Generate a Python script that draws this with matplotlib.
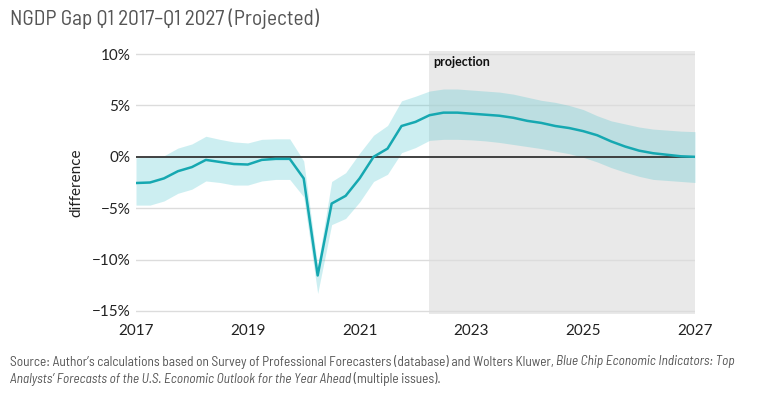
import numpy as np
import matplotlib
matplotlib.use("Agg")
import matplotlib.pyplot as plt

# quarterly positions, Q1 2017 .. Q1 2027
quarters = np.arange(2017, 2027.01, 0.25)

gap = [
    -2.55, -2.5, -2.1, -1.4,
    -1.0, -0.3, -0.5, -0.7,
    -0.75, -0.3, -0.2, -0.2,
    -2.1, -11.55, -4.55, -3.8,
    -2.1, 0.0, 0.8, 3.0,
    3.4, 4.05, 4.3, 4.3,
    4.2, 4.1, 4.0, 3.8,
    3.5, 3.3, 3.0, 2.8,
    2.5, 2.1, 1.5, 1.0,
    0.6, 0.35, 0.2, 0.05,
    0.0,
]
upper = [
    -0.1, 0.0, 0.1, 0.85,
    1.25, 2.0, 1.7, 1.45,
    1.35, 1.7, 1.75, 1.75,
    -0.4, -10.6, -2.4, -1.55,
    0.35, 2.1, 3.05, 5.45,
    5.9, 6.4, 6.6, 6.6,
    6.5, 6.4, 6.3, 6.1,
    5.8, 5.5, 5.3, 5.0,
    4.6, 4.0, 3.5, 3.2,
    2.9, 2.7, 2.6, 2.5,
    2.45,
]
lower = [
    -4.7, -4.7, -4.3, -3.55,
    -3.15, -2.35, -2.5, -2.75,
    -2.75, -2.35, -2.2, -2.2,
    -3.9, -13.3, -6.6, -6.0,
    -4.4, -2.4, -1.7, 0.4,
    0.9, 1.6, 1.7, 1.7,
    1.65, 1.55, 1.4, 1.2,
    1.0, 0.8, 0.55, 0.3,
    -0.05, -0.5, -1.05, -1.5,
    -1.9, -2.2, -2.3, -2.4,
    -2.5,
]
proj_start = 2022.25
proj_end = 2027

yticks = [10, 5, 0, -5, -10, -15]
xticks = [2017, 2019, 2021, 2023, 2025, 2027]

title = "NGDP Gap Q1 2017\u2013Q1 2027 (Projected)"
source_lines = [
    [("Source: Author\u2019s calculations based on Survey of Professional Forecasters (database) and Wolters Kluwer, ", "normal"),
     ("Blue Chip Economic Indicators: Top", "italic")],
    [("Analysts\u2019 Forecasts of the U.S. Economic Outlook for the Year Ahead", "italic"),
     (" (multiple issues).", "normal")],
]

narrow = ["Barlow Semi Condensed", "Archivo Narrow", "Roboto", "DejaVu Sans"]
body = ["Lato", "DejaVu Sans"]
grey_txt = "#555555"
W, H = 762, 396

fig = plt.figure(figsize=(7.62, 3.96), dpi=100)
renderer = fig.canvas.get_renderer()
ax = fig.add_axes([136 / W, 1 - 314 / H, (695 - 136) / W, (314 - 51) / H])

ax.axvspan(proj_start, proj_end, color="#e9e9e9", lw=0, zorder=0)
for yv in yticks:
    if yv != 0:
        ax.axhline(yv, color="#dcdcdc", lw=1, zorder=1)
ax.fill_between(quarters, lower, upper, color="#45c3cc", alpha=0.27, lw=0, zorder=2)
ax.axhline(0, color="#333333", lw=1.3, zorder=3)
ax.plot(quarters, gap, color="#16a8b1", lw=1.8, zorder=4)

ax.set_xlim(2017, 2027)
ax.set_ylim(-15.3, 10.3)
ax.set_yticks(yticks)
ax.set_yticklabels([f"{v}%".replace("-", "\u2212") for v in yticks])
ax.set_xticks(xticks)
ax.set_xticklabels([str(v) for v in xticks])
ax.tick_params(length=0, labelsize=11, colors="#222222", pad=4)
ax.tick_params(axis="x", pad=7)
for lab in ax.get_xticklabels() + ax.get_yticklabels():
    lab.set_family(body)
for s in ax.spines.values():
    s.set_visible(False)
ax.set_ylabel("difference", fontsize=11, color="#222222", labelpad=6,
              family=body)

ax.text(proj_start + 0.07, 9.2, "projection", fontsize=9, fontweight="bold",
        color="#111111", va="center", ha="left", family=body)


def fit_size(txt, size, target):
    probe = fig.text(0, 0, txt, fontsize=size, family=narrow)
    w = probe.get_window_extent(renderer=renderer).width
    probe.remove()
    return size * target / w


def place_pieces(pieces, x0, yp, size):
    xp = x0
    for txt, style in pieces:
        t = fig.text(xp / W, 1 - yp / H, txt, fontsize=size, style=style,
                     color=grey_txt, family=narrow, va="center", ha="left")
        xp += t.get_window_extent(renderer=renderer).width
    return xp


# title, sized to the reference width
fig.text(10 / W, 1 - 19 / H, title, fontsize=fit_size(title, 12, 312),
         color=grey_txt, family=narrow, va="center", ha="left")

# source note with mixed italics, sized to the reference width
size = fit_size("".join(p[0] for p in source_lines[0]), 9, 733)
for line, yp in zip(source_lines, [362, 379]):
    place_pieces(line, 10, yp, size)

fig.savefig("out.png", dpi=100)
